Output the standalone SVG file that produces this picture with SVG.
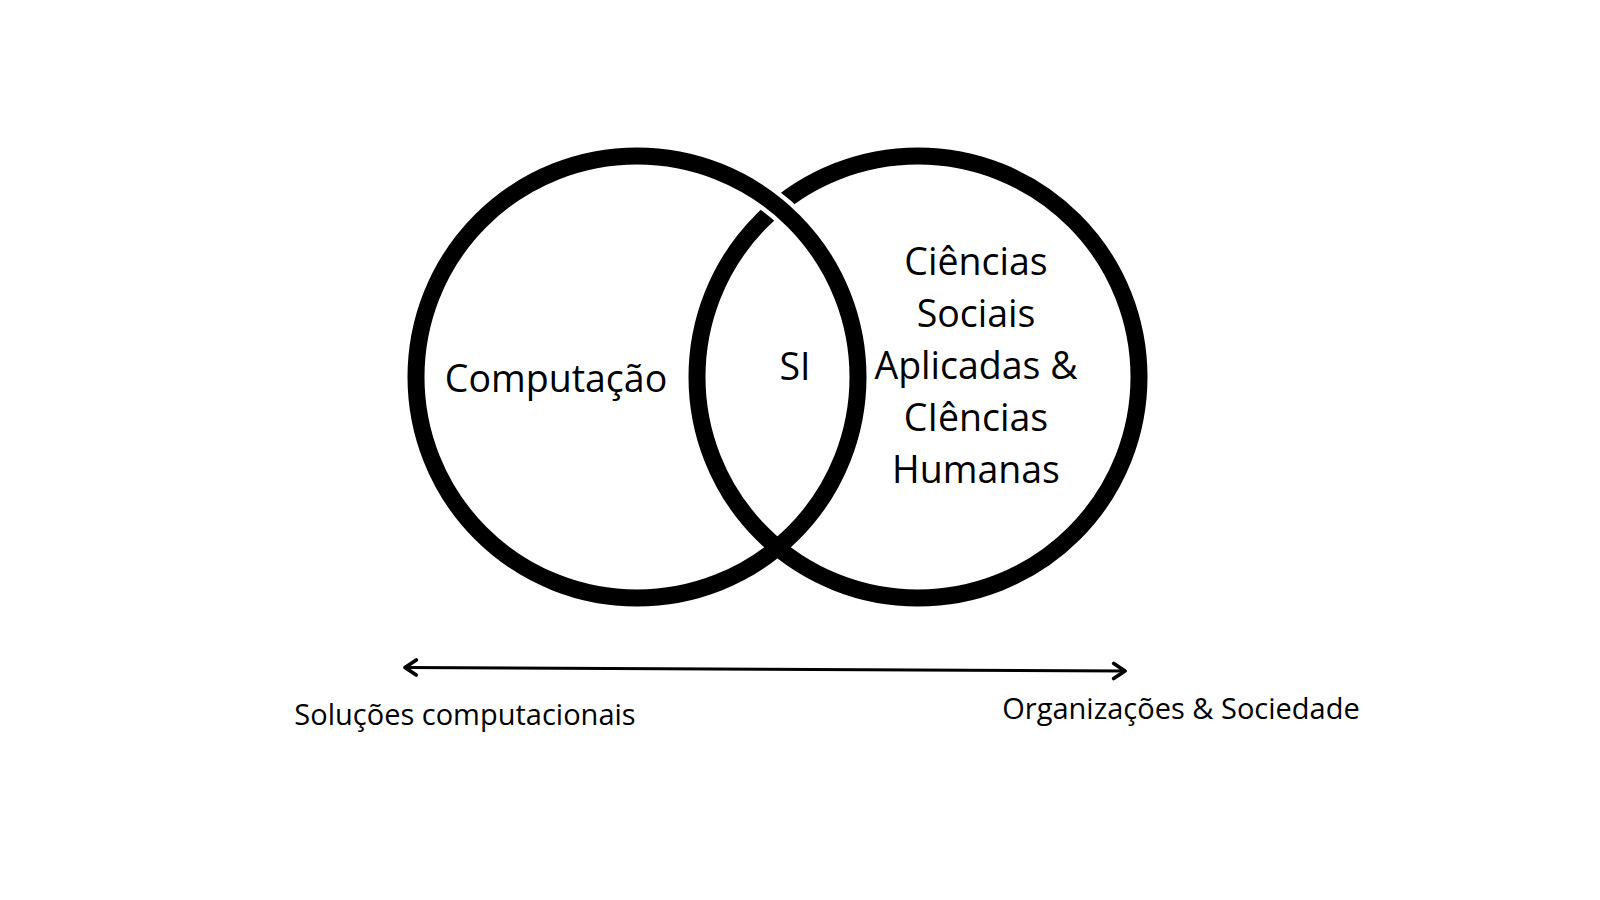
<svg xmlns="http://www.w3.org/2000/svg" width="1600" height="900" viewBox="0 0 1600 900">
  <style>
    .ring { fill: none; stroke: #000; stroke-width: 17; }
    .halo { fill: none; stroke: #fff; stroke-width: 26; }
    .lbl { font-family: "Open Sans", "Liberation Sans", sans-serif; fill: #000; text-anchor: middle; }
    .big { font-size: 37.5px; }
    .small { font-size: 29px; }
    .axis { fill: none; stroke: #000; stroke-width: 3; }
    .head { fill: none; stroke: #000; stroke-width: 3; stroke-linecap: round; stroke-linejoin: round; }
  </style>
  <defs>
    <marker id="arrow" markerUnits="userSpaceOnUse" markerWidth="20" markerHeight="20" viewBox="-12 -8 16 16" refX="0" refY="0" orient="auto-start-reverse">
      <path class="head" d="M-9,-6 L0,0 L-9,6"/>
    </marker>
  </defs>
  <rect width="1600" height="900" fill="#fff"/>

  <g id="node-sociais">
    <circle class="ring" cx="918" cy="377" r="221"/>
    <text class="lbl big" x="976" y="275">Ciências</text>
    <text class="lbl big" x="976" y="327">Sociais</text>
    <text class="lbl big" x="976" y="379">Aplicadas &amp;</text>
    <text class="lbl big" x="976" y="431">CIências</text>
    <text class="lbl big" x="976" y="483">Humanas</text>
  </g>

  <g id="node-computacao">
    <path class="halo" d="M747.5,185.6 A221,221 0 0 1 806.3,234.9"/>
    <circle class="ring" cx="637" cy="377" r="221"/>
    <text class="lbl big" x="556" y="392">Computação</text>
  </g>

  <g id="node-si">
    <text class="lbl big" x="795" y="380">SI</text>
  </g>

  <g id="connectors">
    <path class="axis" d="M405,667.5 L1125,671" marker-start="url(#arrow)" marker-end="url(#arrow)"/>
  </g>

  <g id="axis-labels">
    <text class="lbl small" x="465" y="725">Soluções computacionais</text>
    <text class="lbl small" x="1181" y="719">Organizações &amp; Sociedade</text>
  </g>
</svg>
